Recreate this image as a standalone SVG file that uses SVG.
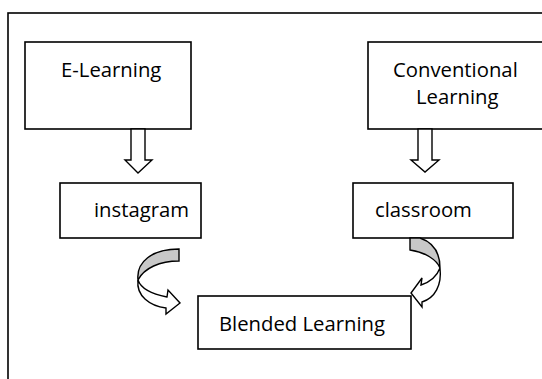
<svg xmlns="http://www.w3.org/2000/svg" width="542" height="379" viewBox="0 0 542 379">
<style>
.box{fill:#fff;stroke:#000;stroke-width:1.6}
.frame{fill:none;stroke:#000;stroke-width:1.6}
.t{font-family:"Open Sans","Liberation Sans",sans-serif;font-size:20.3px;fill:#000}
.arr{fill:#fff;stroke:#000;stroke-width:1.4;stroke-linejoin:miter}
.shade{fill:#c8c8c8;stroke:#000;stroke-width:1.4}
</style>
<rect class="frame" x="8" y="13" width="560" height="400"/>
<g id="elearning">
<rect class="box" x="25" y="42" width="166" height="87"/>
<text class="t" x="61" y="77">E-Learning</text>
</g>
<g id="conventional">
<rect class="box" x="368" y="42" width="200" height="87"/>
<text class="t" x="393" y="77">Conventional</text>
<text class="t" x="416" y="104">Learning</text>
</g>
<g id="instagram">
<rect class="box" x="60" y="183" width="141" height="55"/>
<text class="t" x="94" y="217">instagram</text>
</g>
<g id="classroom">
<rect class="box" x="353" y="183" width="160" height="55"/>
<text class="t" x="375" y="217">classroom</text>
</g>
<g id="blended">
<rect class="box" x="198" y="296" width="213" height="53"/>
<text class="t" x="219" y="331">Blended Learning</text>
</g>
<g id="connectors">
<path class="arr" d="M131,129 L145,129 L145,160 L152,160 L138,173 L125,160 L131,160 Z"/>
<path class="arr" d="M418,129 L432,129 L432,160 L439,160 L425,172 L411,160 L418,160 Z"/>
<path class="shade" d="M179,249 L179,261 C160,261 144,268 138,280 C136,262 152,249 179,249 Z"/>
<path class="arr" d="M138,280 C136,296 150,306 166,308 L166,314 L180,303 L168,290 L167,297 C152,294 141,289 138,280 Z"/>
<path class="shade" d="M410,238 L420,238 C432,242 440,252 440,268 C437,260 425,252 410,250 Z"/>
<path class="arr" d="M440,268 C442,285 435,298 422,302 L422,307 L411,293 L422,278 L421,285 C430,282 437,276 440,268 Z"/>
</g>
</svg>
